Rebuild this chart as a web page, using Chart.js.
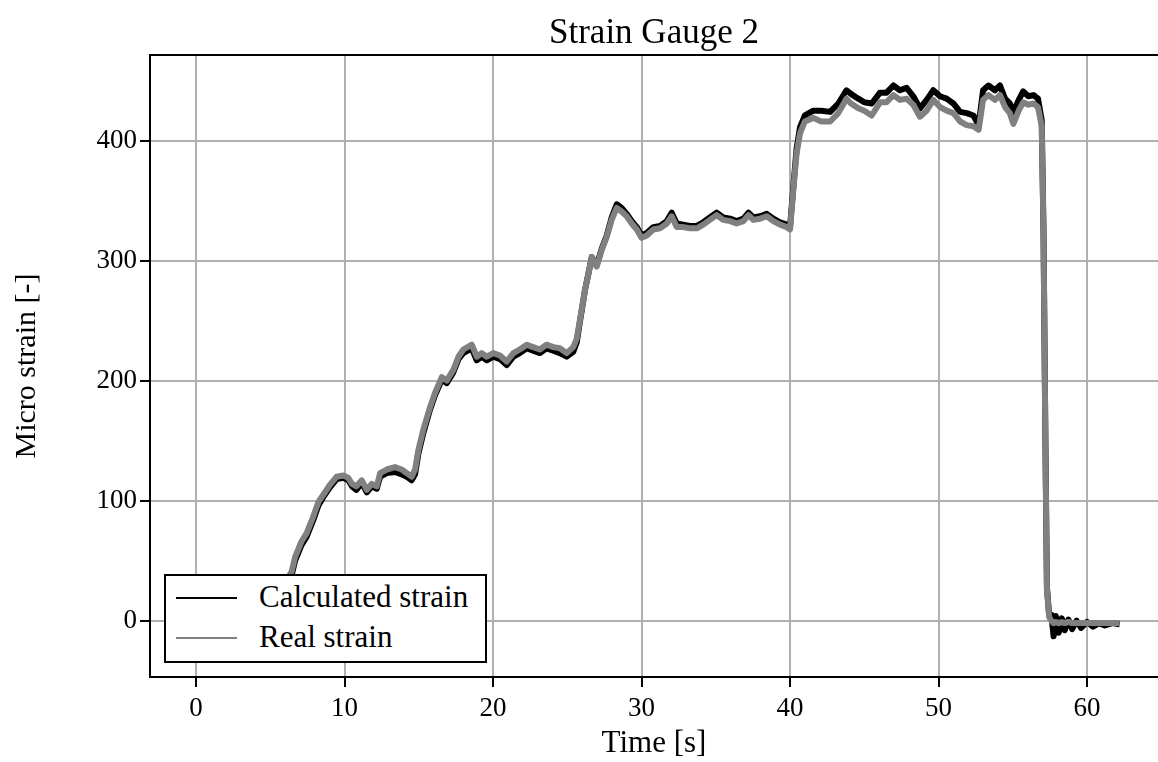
<!DOCTYPE html>
<html>
<head>
<meta charset="utf-8">
<script src="https://cdn.jsdelivr.net/npm/chart.js@4"></script>
<style>
  html, body { margin: 0; padding: 0; background: #fff; overflow: hidden; }
  #wrap { position: relative; width: 1158px; height: 762px; }
  #title {
    position: absolute; left: 150px; top: 12px; width: 1008px; height: 40px; line-height: 40px;
    text-align: center; font-family: "Liberation Serif", serif; font-size: 35px; color: #000;
  }
  #legend {
    position: absolute; left: 164px; top: 574px; width: 323px; height: 89px;
    box-sizing: border-box; border: 2px solid #000; background: #fff;
    font-family: "Liberation Serif", serif; font-size: 31px; color: #000;
  }
  .row { position: absolute; left: 0; height: 40px; width: 100%; }
  .row .ln { position: absolute; left: 10px; width: 61px; height: 2px; top: 19px; }
  .row span { position: absolute; left: 93px; top: 1px; white-space: nowrap; }
</style>
</head>
<body>
<div id="wrap">
  <canvas id="myChart" width="1158" height="762"></canvas>
  <div id="title">Strain Gauge 2</div>
  <div id="legend">
    <div class="row" style="top:2px"><div class="ln" style="background:#000"></div><span>Calculated strain</span></div>
    <div class="row" style="top:42px"><div class="ln" style="background:#808080"></div><span>Real strain</span></div>
  </div>
</div>
<script>
// time [s]
const time = [0, 1, 2, 3, 4, 4.8, 5.4, 5.9, 6.2, 6.44, 6.67, 7.1, 7.45, 7.9, 8.24, 8.57, 9.0, 9.47, 9.92,
  10.26, 10.5, 10.8, 11.16, 11.5, 11.83, 12.17, 12.4, 12.84, 13.4, 13.85, 14.19, 14.52, 14.75, 14.97,
  15.3, 15.76, 16.1, 16.55, 16.88, 17.33, 17.67, 18.0, 18.57, 18.9, 19.24, 19.58, 20.02, 20.47, 20.92,
  21.37, 21.8, 22.27, 22.7, 23.16, 23.6, 24.06, 24.5, 24.96, 25.4, 25.64, 25.86, 26.2, 26.42, 26.65,
  26.98, 27.32, 27.66, 27.99, 28.33, 28.66, 29.0, 29.34, 29.68, 30.0, 30.35, 30.8, 31.25, 31.7, 32.03,
  32.37, 32.8, 33.27, 33.72, 34.16, 34.6, 35.06, 35.5, 35.96, 36.4, 36.86, 37.2, 37.53, 37.98, 38.43,
  38.88, 39.33, 39.78, 40.0, 40.2, 40.44, 40.67, 41.0, 41.57, 42.1, 42.7, 43.25, 43.8, 44.1, 44.6,
  45.0, 45.5, 46.06, 46.5, 46.96, 47.4, 47.85, 48.3, 48.75, 49.2, 49.65, 50.1, 50.55, 51.0, 51.45,
  51.9, 52.35, 52.7, 53.0, 53.36, 53.8, 54.14, 54.48, 54.8, 55.04, 55.4, 55.7, 56.05, 56.4, 56.7,
  56.95, 57.07, 57.2, 57.3, 57.45, 57.6, 57.75, 57.9, 58.1, 58.3, 58.5, 58.75, 59.0, 59.3, 59.6,
  60.0, 60.4, 60.8, 61.2, 61.7, 62.2];

// Calculated strain (black)
const calculated = [0, 0, 0, -1, 1, 6, 16, 26, 34, 38, 50, 63, 70, 84, 96, 103, 111, 118, 119,
  117, 112, 109, 115, 107, 112, 110, 120, 123, 124, 122, 120, 117, 122, 139,
  156, 176, 188, 201, 198, 207, 218, 223, 227, 217, 220, 217, 220, 218, 213,
  220, 223, 227, 225, 223, 227, 225, 223, 220, 224, 232, 250, 276, 289, 303,
  296, 310, 321, 336, 347, 344, 339, 333, 328, 321, 323, 328, 329, 333, 340,
  331, 330, 329, 329, 332, 336, 340, 336, 335, 333, 335, 340, 336, 337, 339,
  335, 332, 330, 328, 358, 393, 411, 421, 425, 425, 424, 431, 442, 439, 435,
  432, 431, 440, 440, 446, 442, 444, 437, 427, 434, 442, 437, 435, 431, 424,
  423, 421, 413, 442, 446, 442, 446, 435, 431, 424, 434, 441, 437, 438, 435,
  417, 325, 147, 28, 5, 5, -13, 4, -10, 2, -8, 1, -7, 0, -6,
  -1, -5, -2, -4, -2, -3];

// Real strain (grey)
const real = [0, 0, 1, 0, 2, 8, 18, 28, 36, 41, 53, 66, 73, 87, 99, 105, 113, 120, 121,
  119, 114, 112, 117, 109, 114, 112, 123, 126, 128, 126, 123, 120, 126, 142,
  159, 178, 190, 203, 200, 209, 220, 226, 230, 220, 223, 220, 223, 221, 216,
  223, 226, 230, 228, 226, 230, 228, 227, 223, 228, 235, 251, 276, 289, 303,
  295, 309, 320, 334, 344, 341, 337, 331, 326, 319, 321, 326, 327, 331, 337,
  328, 328, 327, 327, 330, 334, 338, 334, 333, 331, 333, 338, 334, 335, 337,
  333, 330, 328, 326, 356, 389, 406, 416, 419, 416, 416, 423, 435, 431, 427,
  425, 421, 432, 432, 438, 434, 435, 430, 420, 425, 434, 428, 425, 423, 416,
  413, 412, 409, 434, 438, 434, 438, 428, 423, 414, 425, 432, 430, 431, 428,
  412, 323, 145, 26, 3, 0, -2, -1, -2, -1, -2, -1, -2, -2, -2,
  -2, -2, -2, -2, -2, -2];

const xTicks = [0, 10, 20, 30, 40, 50, 60];
const yTicks = [0, 100, 200, 300, 400];

const serif = '"Liberation Serif", "Times New Roman", serif';

// matplotlib-style top spine
const topSpine = {
  id: 'topSpine',
  afterDraw(chart) {
    const a = chart.chartArea;
    const c = chart.ctx;
    c.save();
    c.strokeStyle = '#000';
    c.lineWidth = 2;
    c.beginPath();
    c.moveTo(a.left - 1, a.top);
    c.lineTo(a.right, a.top);
    c.stroke();
    c.restore();
  }
};

const ctx = document.getElementById('myChart');
const myChart = new Chart(ctx, {
  type: 'line',
  data: {
    datasets: [{
      label: 'Real strain',
      data: time.map((t, i) => ({ x: t, y: real[i] })),
      borderColor: '#808080',
      borderWidth: 6,
      borderJoinStyle: 'round',
      pointRadius: 0,
      tension: 0
    }, {
      label: 'Calculated strain',
      data: time.map((t, i) => ({ x: t, y: calculated[i] })),
      borderColor: '#000000',
      borderWidth: 6,
      borderJoinStyle: 'round',
      pointRadius: 0,
      tension: 0
    }]
  },
  plugins: [topSpine],
  options: {
    responsive: false,
    animation: false,
    layout: { padding: { top: 55 } },
    plugins: {
      legend: { display: false },
      tooltip: { enabled: false }
    },
    scales: {
      x: {
        type: 'linear',
        min: -3.1,
        max: 64.78,
        afterFit: (s) => { s.height = 85; },
        afterBuildTicks: (s) => { s.ticks = xTicks.map(v => ({ value: v })); },
        ticks: { color: '#000', font: { family: serif, size: 27 }, padding: 6, maxRotation: 0 },
        grid: { color: '#b0b0b0', lineWidth: 2, tickColor: '#000', tickLength: 10, tickWidth: 2 },
        border: { color: '#000', width: 2 },
        title: {
          display: true, text: 'Time [s]', color: '#000',
          font: { family: serif, size: 31, lineHeight: 1.2 },
          padding: { top: 0, bottom: 0 }
        }
      },
      y: {
        min: -46.9,
        max: 471.4,
        afterFit: (s) => { s.width = 150; },
        afterBuildTicks: (s) => { s.ticks = yTicks.map(v => ({ value: v })); },
        ticks: { color: '#000', font: { family: serif, size: 27 }, padding: 3 },
        grid: { color: '#b0b0b0', lineWidth: 2, tickColor: '#000', tickLength: 10, tickWidth: 2 },
        border: { color: '#000', width: 2 },
        title: {
          display: true, text: 'Micro strain [-]', color: '#000',
          font: { family: serif, size: 30, lineHeight: 1.2 },
          padding: { top: 9, bottom: 0 }
        }
      }
    }
  }
});
</script>
</body>
</html>
